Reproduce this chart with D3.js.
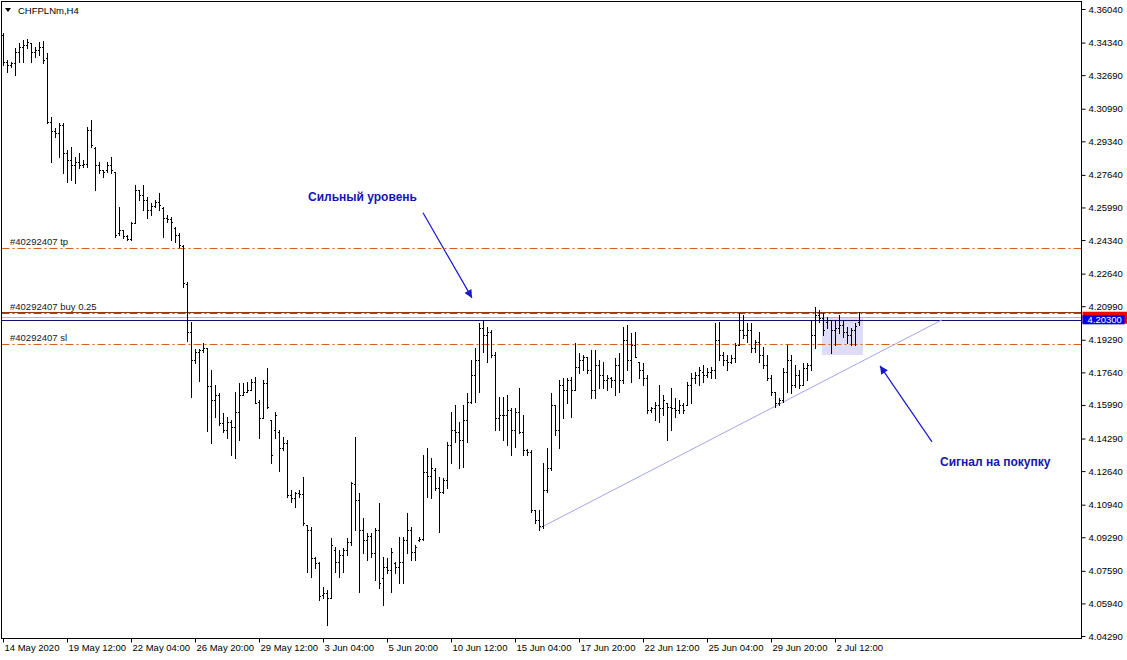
<!DOCTYPE html>
<html><head><meta charset="utf-8">
<script src="https://cdn.jsdelivr.net/npm/d3@7"></script>
<style>
body{margin:0;background:#fff;}
svg{display:block;}
text{font-family:"Liberation Sans",Arial,sans-serif;}
</style>
</head><body>
<svg id="chart" width="1127" height="660"></svg>
<script>
// ---------- DATA (CHFPLNm, H4) ----------
const opens=[4.3473,4.3336,4.3321,4.3331,4.3387,4.3412,4.3422,4.3432,4.3387,4.3397,4.3412,4.3356,4.3032,4.2987,4.2977,4.3017,4.2875,4.2840,4.2815,4.2830,4.2815,4.2820,4.2992,4.2900,4.2815,4.2789,4.2789,4.2815,4.2779,4.2470,4.2485,4.2455,4.2440,4.2521,4.2688,4.2662,4.2637,4.2587,4.2607,4.2627,4.2597,4.2546,4.2541,4.2495,4.2460,4.2404,4.2212,4.1969,4.1827,4.1868,4.1878,4.1888,4.1696,4.1624,4.1650,4.1508,4.1472,4.1513,4.1487,4.1564,4.1650,4.1665,4.1675,4.1716,4.1614,4.1533,4.1711,4.1523,4.1472,4.1462,4.1381,4.1407,4.1143,4.1128,4.1154,4.1149,4.0991,4.0966,4.0824,4.0799,4.0636,4.0647,4.0621,4.0865,4.0804,4.0840,4.0865,4.0905,4.1199,4.1118,4.0966,4.0915,4.0935,4.0850,4.0966,4.0723,4.0778,4.0763,4.0799,4.0778,4.0804,4.0915,4.0966,4.0855,4.0915,4.0920,4.1260,4.1239,4.1270,4.1179,4.1159,4.1219,4.1396,4.1472,4.1462,4.1422,4.1523,4.1614,4.1751,4.1827,4.1989,4.1954,4.1969,4.1852,4.1533,4.1549,4.1549,4.1574,4.1472,4.1564,4.1462,4.1371,4.1361,4.1067,4.1017,4.0986,4.1169,4.1280,4.1599,4.1472,4.1701,4.1675,4.1726,4.1675,4.1791,4.1827,4.1842,4.1776,4.1675,4.1802,4.1751,4.1726,4.1736,4.1726,4.1802,4.1726,4.1928,4.1827,4.1903,4.1817,4.1776,4.1736,4.1574,4.1584,4.1599,4.1584,4.1609,4.1589,4.1584,4.1574,4.1599,4.1599,4.1701,4.1736,4.1751,4.1766,4.1751,4.1766,4.1776,4.1928,4.1852,4.1827,4.1817,4.1837,4.1903,4.1979,4.1954,4.1979,4.1888,4.1918,4.1852,4.1802,4.1736,4.1665,4.1609,4.1624,4.1766,4.1827,4.1701,4.1751,4.1701,4.1786,4.1802,4.1954,4.2055,4.2040,4.2020,4.2030,4.1979,4.1989,4.2005,4.1969,4.1954,4.1979,4.2020];
const highs=[4.3483,4.3346,4.3336,4.3406,4.3432,4.3447,4.3452,4.3432,4.3412,4.3437,4.3442,4.3382,4.3058,4.3001,4.3027,4.3027,4.2890,4.2906,4.2855,4.2875,4.2840,4.3007,4.3042,4.2906,4.2830,4.2789,4.2830,4.2855,4.2779,4.2602,4.2485,4.2460,4.2526,4.2713,4.2688,4.2713,4.2652,4.2622,4.2637,4.2673,4.2602,4.2562,4.2551,4.2500,4.2470,4.2409,4.2222,4.2020,4.1883,4.1883,4.1913,4.1888,4.1776,4.1701,4.1660,4.1559,4.1538,4.1523,4.1665,4.1711,4.1711,4.1716,4.1731,4.1741,4.1624,4.1726,4.1786,4.1523,4.1564,4.1472,4.1437,4.1422,4.1169,4.1159,4.1169,4.1234,4.0991,4.0981,4.0829,4.0804,4.0677,4.0662,4.0925,4.0880,4.0865,4.0875,4.0925,4.1209,4.1437,4.1154,4.1027,4.0951,4.0951,4.0976,4.1103,4.0829,4.0824,4.0875,4.0804,4.0930,4.0930,4.1052,4.0981,4.0890,4.0930,4.1346,4.1381,4.1330,4.1280,4.1234,4.1229,4.1412,4.1564,4.1599,4.1513,4.1599,4.1660,4.1827,4.1888,4.2015,4.2030,4.1994,4.1979,4.1868,4.1640,4.1640,4.1650,4.1584,4.1584,4.1685,4.1549,4.1376,4.1371,4.1067,4.1067,4.1305,4.1381,4.1660,4.1599,4.1726,4.1736,4.1736,4.1741,4.1913,4.1862,4.1852,4.1842,4.1878,4.1878,4.1827,4.1817,4.1751,4.1741,4.1837,4.1862,4.1994,4.2005,4.1964,4.1969,4.1817,4.1812,4.1751,4.1589,4.1614,4.1701,4.1650,4.1609,4.1685,4.1634,4.1624,4.1609,4.1716,4.1761,4.1766,4.1791,4.1802,4.1786,4.1791,4.2015,4.2020,4.1868,4.1852,4.1852,4.1913,4.2065,4.2055,4.2015,4.2015,4.1928,4.1969,4.1893,4.1852,4.1751,4.1665,4.1634,4.1786,4.1903,4.1852,4.1802,4.1776,4.1812,4.1812,4.2030,4.2095,4.2080,4.2065,4.2045,4.2030,4.2030,4.2055,4.2030,4.1994,4.1989,4.2015,4.2070];
const lows=[4.3321,4.3286,4.3311,4.3271,4.3336,4.3336,4.3406,4.3336,4.3362,4.3372,4.3331,4.3027,4.2830,4.2957,4.2855,4.2774,4.2728,4.2738,4.2723,4.2800,4.2805,4.2805,4.2906,4.2688,4.2774,4.2754,4.2779,4.2774,4.2450,4.2460,4.2445,4.2435,4.2435,4.2521,4.2637,4.2587,4.2546,4.2562,4.2602,4.2587,4.2450,4.2526,4.2435,4.2425,4.2399,4.2196,4.1923,4.1640,4.1812,4.1721,4.1868,4.1467,4.1407,4.1538,4.1498,4.1462,4.1432,4.1346,4.1330,4.1422,4.1650,4.1665,4.1675,4.1609,4.1432,4.1533,4.1584,4.1305,4.1432,4.1265,4.1371,4.1133,4.1108,4.1083,4.1133,4.0991,4.0753,4.0728,4.0773,4.0611,4.0621,4.0485,4.0621,4.0753,4.0728,4.0753,4.0840,4.0890,4.0966,4.0652,4.0850,4.0814,4.0829,4.0713,4.0672,4.0586,4.0748,4.0652,4.0748,4.0698,4.0698,4.0850,4.0814,4.0814,4.0910,4.0915,4.1133,4.1128,4.1169,4.0956,4.1154,4.1179,4.1305,4.1412,4.1280,4.1285,4.1412,4.1609,4.1614,4.1665,4.1868,4.1817,4.1842,4.1472,4.1472,4.1422,4.1396,4.1346,4.1386,4.1457,4.1346,4.1346,4.1057,4.1002,4.0966,4.0976,4.1159,4.1270,4.1447,4.1381,4.1533,4.1609,4.1538,4.1675,4.1761,4.1776,4.1761,4.1634,4.1634,4.1685,4.1685,4.1675,4.1690,4.1650,4.1665,4.1711,4.1776,4.1716,4.1842,4.1736,4.1701,4.1559,4.1564,4.1523,4.1513,4.1549,4.1422,4.1472,4.1538,4.1559,4.1559,4.1599,4.1609,4.1711,4.1701,4.1716,4.1741,4.1736,4.1736,4.1827,4.1802,4.1776,4.1812,4.1817,4.1903,4.1939,4.1918,4.1868,4.1868,4.1817,4.1786,4.1726,4.1650,4.1589,4.1599,4.1614,4.1665,4.1660,4.1690,4.1685,4.1701,4.1726,4.1776,4.1888,4.2020,4.1954,4.1989,4.1862,4.1903,4.1964,4.1944,4.1913,4.1903,4.1903,4.2005];
const closes=[4.3336,4.3321,4.3331,4.3387,4.3412,4.3422,4.3437,4.3387,4.3397,4.3412,4.3346,4.3032,4.2987,4.2977,4.3017,4.2875,4.2840,4.2815,4.2830,4.2815,4.2820,4.2992,4.2916,4.2815,4.2789,4.2779,4.2815,4.2789,4.2460,4.2485,4.2455,4.2440,4.2521,4.2688,4.2662,4.2637,4.2587,4.2607,4.2627,4.2612,4.2546,4.2541,4.2526,4.2460,4.2409,4.2217,4.1969,4.1827,4.1868,4.1878,4.1888,4.1696,4.1624,4.1650,4.1508,4.1472,4.1513,4.1487,4.1564,4.1650,4.1665,4.1675,4.1716,4.1609,4.1533,4.1711,4.1589,4.1346,4.1549,4.1381,4.1407,4.1143,4.1128,4.1154,4.1149,4.1002,4.0966,4.0824,4.0799,4.0631,4.0647,4.0621,4.0890,4.0804,4.0840,4.0865,4.0905,4.1204,4.1118,4.0966,4.0915,4.0935,4.0850,4.0966,4.0698,4.0778,4.0763,4.0855,4.0778,4.0804,4.0915,4.0966,4.0855,4.0880,4.0920,4.1260,4.1239,4.1280,4.1179,4.1159,4.1219,4.1396,4.1472,4.1462,4.1422,4.1523,4.1614,4.1751,4.1827,4.1989,4.1954,4.1969,4.1852,4.1533,4.1549,4.1549,4.1574,4.1472,4.1564,4.1462,4.1371,4.1361,4.1067,4.1017,4.0986,4.1169,4.1280,4.1599,4.1472,4.1701,4.1675,4.1726,4.1675,4.1791,4.1827,4.1842,4.1776,4.1675,4.1802,4.1751,4.1726,4.1736,4.1726,4.1802,4.1726,4.1928,4.1827,4.1903,4.1842,4.1776,4.1736,4.1574,4.1584,4.1599,4.1584,4.1624,4.1589,4.1584,4.1574,4.1599,4.1574,4.1701,4.1736,4.1751,4.1776,4.1751,4.1766,4.1776,4.1928,4.1852,4.1827,4.1817,4.1837,4.1903,4.1979,4.1954,4.1979,4.1888,4.1918,4.1852,4.1802,4.1736,4.1665,4.1609,4.1624,4.1766,4.1827,4.1701,4.1751,4.1701,4.1786,4.1802,4.1954,4.2055,4.2040,4.1979,4.2030,4.1979,4.1989,4.2005,4.1969,4.1954,4.1979,4.1999,4.2030];

const priceTicks=[4.36040,4.34340,4.32690,4.30990,4.29340,4.27640,4.25990,4.24340,4.22640,4.20990,4.19290,4.17640,4.15990,4.14290,4.12640,4.10940,4.09290,4.07590,4.05940,4.04290];
const timeLabels=["14 May 2020","19 May 12:00","22 May 04:00","26 May 20:00","29 May 12:00","3 Jun 04:00","5 Jun 20:00","10 Jun 12:00","15 Jun 04:00","17 Jun 20:00","22 Jun 12:00","25 Jun 04:00","29 Jun 20:00","2 Jul 12:00"];
const timeLabelBars=[0,16,32,48,64,80,96,112,128,144,160,176,192,208];

const symbolTitle="CHFPLNm,H4";
const orderNames=["#40292407 tp","#40292407 buy 0.25","#40292407 sl"];
const orderPrices=[4.2394,4.2066,4.1908];
const askPrice=4.2066, bidPrice=4.2030, midLine=4.2045;
const trendBars=[134.25,234.75], trendPrices=[4.0976,4.2030];
const boxBars=[204.75,215], boxPrices=[4.2040,4.1852];
const noteTexts=["Сильный уровень","Сигнал на покупку"];
const noteBars=[76.25,234.25], notePrices=[4.2632,4.1290];
const arrowFromBars=[105,232.25], arrowFromPrices=[4.2572,4.1412];
const arrowToBars=[117.25,219.25], arrowToPrices=[4.2141,4.1797];

// ---------- LAYOUT ----------
const L=1.5, T=1.5, R=1081.5, B=638.5;
const svg=d3.select("#chart");
const x=d3.scaleLinear().domain([0,1]).range([3,7]);      // bar index -> px
const y=d3.scaleLinear().domain([4.04290,4.36040]).range([636,9]);
const cx=i=>Math.round(x(i))+0.5;
const cy=v=>Math.round(y(v))+0.5;

svg.append("rect").attr("width",1127).attr("height",660).attr("fill","#fff");

const defs=svg.append("defs");
defs.append("clipPath").attr("id","plot").append("rect")
  .attr("x",L).attr("y",T).attr("width",R-L).attr("height",B-T);
defs.append("marker").attr("id","ah").attr("viewBox","0 0 10 10")
  .attr("refX",10).attr("refY",5).attr("markerWidth",14).attr("markerHeight",8)
  .attr("markerUnits","userSpaceOnUse").attr("orient","auto")
  .append("path").attr("d","M0,0 L10,5 L0,10 Z").attr("fill","#1818d0");

const plot=svg.append("g").attr("clip-path","url(#plot)");

// shaded signal box
plot.append("rect")
  .attr("x",x(boxBars[0])).attr("y",y(boxPrices[0]))
  .attr("width",x(boxBars[1])-x(boxBars[0])).attr("height",y(boxPrices[1])-y(boxPrices[0]))
  .attr("fill","#dedcf6");

// order lines
const orderCol="#d0601a";
orderPrices.forEach((p,k)=>{
  if(k===1){
    plot.append("line").attr("x1",L).attr("x2",R).attr("y1",cy(p)-1).attr("y2",cy(p)-1)
      .attr("stroke","#8c3a10").attr("stroke-width",1);
  }
  plot.append("line").attr("x1",L).attr("x2",R).attr("y1",cy(p)).attr("y2",cy(p))
    .attr("stroke",k===1?"#a04a14":orderCol).attr("stroke-width",1)
    .attr("stroke-dasharray","8,3,2,3");
  plot.append("text").attr("x",10).attr("y",cy(p)-3.5).text(orderNames[k])
    .attr("font-size","9.5px").attr("fill","#202020");
});
plot.append("line").attr("x1",L).attr("x2",R).attr("y1",cy(midLine)).attr("y2",cy(midLine))
  .attr("stroke","#b4b4dc").attr("stroke-width",1);
plot.append("line").attr("x1",L).attr("x2",R).attr("y1",cy(bidPrice)).attr("y2",cy(bidPrice))
  .attr("stroke","#101070").attr("stroke-width",1);

// trend line
plot.append("line")
  .attr("x1",x(trendBars[0])).attr("y1",y(trendPrices[0]))
  .attr("x2",x(trendBars[1])).attr("y2",y(trendPrices[1]))
  .attr("stroke","#a4a4ea").attr("stroke-width",1);

// OHLC bars
const bars=d3.range(opens.length);
plot.append("g").selectAll("path").data(bars).join("path")
  .attr("d",i=>{
    const xi=cx(i), yh=Math.round(y(highs[i])), yl=Math.round(y(lows[i]));
    const yo=cy(opens[i]), yc=cy(closes[i]);
    return `M${xi},${yh}V${yl+1}M${xi-1.5},${yo}H${xi-0.5}M${xi+0.5},${yc}H${xi+1.5}`;
  })
  .attr("stroke","#000").attr("stroke-width",1).attr("fill","none")
  .attr("shape-rendering","crispEdges");

// annotations
noteTexts.forEach((t,k)=>{
  plot.append("text").attr("x",x(noteBars[k])).attr("y",y(notePrices[k])).text(t)
    .attr("font-size","12px").attr("font-weight","bold").attr("fill","#1414b4");
  plot.append("line")
    .attr("x1",x(arrowFromBars[k])).attr("y1",y(arrowFromPrices[k]))
    .attr("x2",x(arrowToBars[k])).attr("y2",y(arrowToPrices[k]))
    .attr("stroke","#1818d0").attr("stroke-width",1.2).attr("marker-end","url(#ah)");
});

// title
svg.append("path").attr("d","M5,8 L11,8 L8,12 Z").attr("fill","#000");
svg.append("text").attr("x",18).attr("y",14).text(symbolTitle)
  .attr("font-size","9.5px").attr("fill","#000");

// frame
svg.append("rect").attr("x",L).attr("y",T).attr("width",R-L).attr("height",B-T)
  .attr("fill","none").attr("stroke","#000").attr("stroke-width",1);

// price axis
const yAxis=d3.axisRight(y).tickValues(priceTicks).tickFormat(d3.format(".5f"))
  .tickSize(4).tickSizeOuter(0).tickPadding(3);
const ya=svg.append("g").attr("transform",`translate(${R},0)`).call(yAxis);
ya.select(".domain").remove();
ya.selectAll("text").attr("font-family","Liberation Sans, Arial, sans-serif")
  .attr("font-size","9.5px").attr("fill","#000");
ya.selectAll("line").attr("stroke","#000");

// time axis
const xAxis=d3.axisBottom(x).tickValues(timeLabelBars).tickFormat((d,i)=>timeLabels[i])
  .tickSize(4).tickSizeOuter(0).tickPadding(2);
const xa=svg.append("g").attr("transform",`translate(0,${B})`).call(xAxis);
xa.select(".domain").remove();
xa.selectAll("text").attr("text-anchor","start").attr("dx","1")
  .attr("font-family","Liberation Sans, Arial, sans-serif").attr("font-size","9.5px").attr("fill","#000");
xa.selectAll("line").attr("stroke","#000");

// price labels (ask box partly hidden behind bid box, as in the terminal)
svg.append("rect").attr("x",R+1).attr("y",y(askPrice)-1).attr("width",1127-R-1).attr("height",12).attr("fill","#f00000");
svg.append("rect").attr("x",R+1).attr("y",y(bidPrice)-4.5).attr("width",42).attr("height",9).attr("fill","#0000e0");
svg.append("text").attr("x",R+6).attr("y",y(bidPrice)+3.5).text(d3.format(".5f")(bidPrice))
  .attr("font-size","9.5px").attr("fill","#fff");
</script>
</body></html>
